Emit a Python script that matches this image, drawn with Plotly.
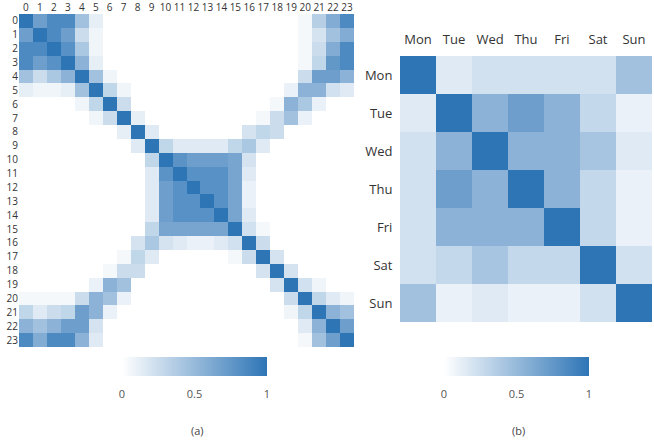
import plotly.graph_objects as go

# Hour-of-day correlation matrix (rows/cols 0..23)
hours = list(range(24))
hour_corr = [
    [1.00, 0.70, 0.85, 0.85, 0.45, 0.12, 0, 0, 0, 0, 0, 0, 0, 0, 0, 0, 0, 0, 0, 0, 0.05, 0.35, 0.60, 0.85],
    [0.70, 1.00, 0.85, 0.70, 0.25, 0.07, 0, 0, 0, 0, 0, 0, 0, 0, 0, 0, 0, 0, 0, 0, 0.05, 0.20, 0.45, 0.60],
    [0.85, 0.85, 1.00, 0.80, 0.40, 0.07, 0, 0, 0, 0, 0, 0, 0, 0, 0, 0, 0, 0, 0, 0, 0.05, 0.25, 0.60, 0.85],
    [0.85, 0.70, 0.80, 1.00, 0.55, 0.12, 0, 0, 0, 0, 0, 0, 0, 0, 0, 0, 0, 0, 0, 0, 0.05, 0.30, 0.75, 0.85],
    [0.45, 0.25, 0.40, 0.55, 1.00, 0.45, 0.07, 0, 0, 0, 0, 0, 0, 0, 0, 0, 0, 0, 0, 0, 0.25, 0.70, 0.70, 0.55],
    [0.12, 0.07, 0.07, 0.12, 0.45, 1.00, 0.30, 0.07, 0, 0, 0, 0, 0, 0, 0, 0, 0, 0, 0, 0.10, 0.55, 0.55, 0.22, 0.15],
    [0, 0, 0, 0, 0.07, 0.30, 1.00, 0.25, 0, 0, 0, 0, 0, 0, 0, 0, 0, 0, 0.05, 0.55, 0.40, 0.10, 0, 0],
    [0, 0, 0, 0, 0, 0.07, 0.25, 1.00, 0.12, 0, 0, 0, 0, 0, 0, 0, 0, 0.05, 0.25, 0.45, 0.10, 0, 0, 0],
    [0, 0, 0, 0, 0, 0, 0, 0.12, 1.00, 0.15, 0, 0, 0, 0, 0, 0, 0.20, 0.30, 0.25, 0, 0, 0, 0, 0],
    [0, 0, 0, 0, 0, 0, 0, 0, 0.15, 1.00, 0.30, 0.15, 0.15, 0.15, 0.15, 0.30, 0.40, 0.15, 0, 0, 0, 0, 0, 0],
    [0, 0, 0, 0, 0, 0, 0, 0, 0, 0.30, 1.00, 0.78, 0.70, 0.70, 0.70, 0.65, 0.20, 0, 0, 0, 0, 0, 0, 0],
    [0, 0, 0, 0, 0, 0, 0, 0, 0, 0.15, 0.78, 1.00, 0.80, 0.80, 0.80, 0.65, 0.15, 0, 0, 0, 0, 0, 0, 0],
    [0, 0, 0, 0, 0, 0, 0, 0, 0, 0.15, 0.70, 0.80, 1.00, 0.80, 0.80, 0.65, 0.10, 0, 0, 0, 0, 0, 0, 0],
    [0, 0, 0, 0, 0, 0, 0, 0, 0, 0.15, 0.70, 0.80, 0.80, 1.00, 0.80, 0.65, 0.10, 0, 0, 0, 0, 0, 0, 0],
    [0, 0, 0, 0, 0, 0, 0, 0, 0, 0.15, 0.70, 0.80, 0.80, 0.80, 1.00, 0.65, 0.15, 0, 0, 0, 0, 0, 0, 0],
    [0, 0, 0, 0, 0, 0, 0, 0, 0, 0.30, 0.65, 0.65, 0.65, 0.65, 0.65, 1.00, 0.22, 0.05, 0, 0, 0, 0, 0, 0],
    [0, 0, 0, 0, 0, 0, 0, 0, 0.20, 0.40, 0.20, 0.15, 0.10, 0.10, 0.15, 0.22, 1.00, 0.25, 0, 0, 0, 0, 0, 0],
    [0, 0, 0, 0, 0, 0, 0, 0.05, 0.30, 0.15, 0, 0, 0, 0, 0, 0.05, 0.25, 1.00, 0.20, 0, 0, 0, 0, 0],
    [0, 0, 0, 0, 0, 0, 0.05, 0.25, 0.25, 0, 0, 0, 0, 0, 0, 0, 0, 0.20, 1.00, 0.20, 0, 0, 0, 0],
    [0, 0, 0, 0, 0, 0.10, 0.55, 0.45, 0, 0, 0, 0, 0, 0, 0, 0, 0, 0, 0.20, 1.00, 0.22, 0.07, 0, 0],
    [0.05, 0.05, 0.05, 0.05, 0.25, 0.55, 0.45, 0.10, 0, 0, 0, 0, 0, 0, 0, 0, 0, 0, 0, 0.25, 1.00, 0.30, 0.15, 0.07],
    [0.30, 0.15, 0.25, 0.30, 0.70, 0.55, 0.10, 0, 0, 0, 0, 0, 0, 0, 0, 0, 0, 0, 0, 0.07, 0.30, 1.00, 0.55, 0.45],
    [0.55, 0.45, 0.55, 0.70, 0.70, 0.20, 0, 0, 0, 0, 0, 0, 0, 0, 0, 0, 0, 0, 0, 0, 0.15, 0.55, 1.00, 0.70],
    [0.85, 0.60, 0.85, 0.85, 0.55, 0.15, 0, 0, 0, 0, 0, 0, 0, 0, 0, 0, 0, 0, 0, 0, 0.05, 0.45, 0.70, 1.00],
]

# Day-of-week correlation matrix
days = ["Mon", "Tue", "Wed", "Thu", "Fri", "Sat", "Sun"]
day_corr = [
    [1.00, 0.15, 0.22, 0.22, 0.22, 0.22, 0.45],
    [0.15, 1.00, 0.55, 0.70, 0.55, 0.28, 0.10],
    [0.22, 0.55, 1.00, 0.55, 0.55, 0.42, 0.15],
    [0.22, 0.70, 0.55, 1.00, 0.55, 0.28, 0.10],
    [0.22, 0.55, 0.55, 0.55, 1.00, 0.28, 0.10],
    [0.22, 0.28, 0.42, 0.28, 0.28, 1.00, 0.22],
    [0.45, 0.10, 0.15, 0.10, 0.10, 0.22, 1.00],
]

cbar_ticks = [0, 0.5, 1]
cbar_labels = ["0", "0.5", "1"]
panel_labels = ["(a)", "(b)"]

W, H = 654, 443
BLUES = [[0, "#ffffff"], [1, "#2e75b6"]]
FONT = "Open Sans"


def px_x(p):
    return p / W


def px_y(p):
    return 1 - p / H


def colorbar(cx):
    return dict(
        orientation="h",
        x=px_x(cx), xanchor="center",
        y=px_y(357), yanchor="top",
        len=145, lenmode="pixels",
        thickness=19, thicknessmode="pixels",
        xpad=0, ypad=0,
        outlinewidth=0,
        tickvals=cbar_ticks, ticktext=cbar_labels,
        ticks="outside", ticklen=9, tickcolor="rgba(0,0,0,0)",
        tickfont=dict(family=FONT, size=11, color="#555555"),
    )


fig = go.Figure()
fig.add_trace(go.Heatmap(z=hour_corr, x=hours, y=hours, coloraxis="coloraxis",
                         xaxis="x", yaxis="y"))
fig.add_trace(go.Heatmap(z=day_corr, x=days, y=days, coloraxis="coloraxis2",
                         xaxis="x2", yaxis="y2"))

axis_common = dict(showgrid=False, zeroline=False, showline=False, ticks="")

fig.update_layout(
    width=W, height=H,
    margin=dict(l=0, r=0, t=0, b=0),
    paper_bgcolor="white", plot_bgcolor="white",
    font=dict(family=FONT, color="#333333"),
    coloraxis=dict(colorscale=BLUES, cmin=0, cmax=1, colorbar=colorbar(194.5)),
    coloraxis2=dict(colorscale=BLUES, cmin=0, cmax=1, colorbar=colorbar(516.5)),
    xaxis=dict(domain=[px_x(19), px_x(354)], side="top", tickmode="array",
               tickvals=hours, tickfont=dict(size=10), anchor="y", **axis_common),
    yaxis=dict(domain=[px_y(347), px_y(14)], autorange="reversed", tickmode="array",
               tickvals=hours, tickfont=dict(size=10), anchor="x", **axis_common),
    xaxis2=dict(domain=[px_x(400), px_x(652)], side="top", anchor="y2",
                tickfont=dict(size=13), showgrid=False, zeroline=False, showline=False,
                ticks="outside", ticklen=6, tickcolor="rgba(0,0,0,0)"),
    yaxis2=dict(domain=[px_y(322), px_y(56)], autorange="reversed", anchor="x2",
                tickfont=dict(size=13), showgrid=False, zeroline=False, showline=False,
                ticks="outside", ticklen=4, tickcolor="rgba(0,0,0,0)"),
    annotations=[
        dict(text=panel_labels[0], x=px_x(197), y=px_y(430), xref="paper", yref="paper",
             xanchor="center", yanchor="middle", showarrow=False,
             font=dict(size=11, color="#444444")),
        dict(text=panel_labels[1], x=px_x(518), y=px_y(430), xref="paper", yref="paper",
             xanchor="center", yanchor="middle", showarrow=False,
             font=dict(size=11, color="#444444")),
    ],
)

fig.write_html("out.html")
